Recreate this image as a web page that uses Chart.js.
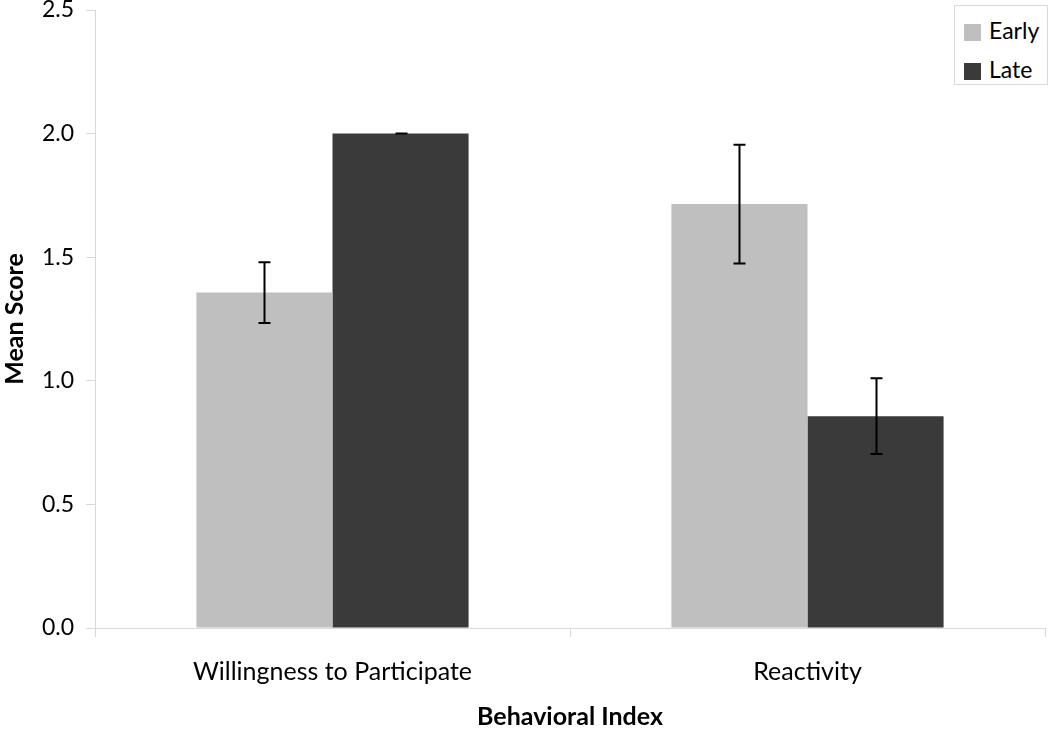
<!DOCTYPE html>
<html>
<head>
<meta charset="utf-8">
<script src="https://cdn.jsdelivr.net/npm/chart.js@4"></script>
<style>
  body { margin: 0; background: #fff; }
  #wrap { position: relative; width: 1050px; height: 729px; }
  #legend {
    position: absolute; left: 954px; top: 5px; width: 92px; height: 78px;
    border: 1px solid #d9d9d9; background: #fff;
    font-family: Lato, sans-serif; font-size: 23px; color: #000;
  }
  #legend div { position: absolute; left: 9px; height: 26px; line-height: 26px; }
  #legend span { display: inline-block; width: 17px; height: 17px; margin-right: 8px; vertical-align: -2px; }
</style>
</head>
<body>
<div id="wrap">
  <canvas id="myChart" width="1050" height="729"></canvas>
  <div id="legend"></div>
</div>
<script>
// dados
const categorias = ['Willingness to Participate', 'Reactivity'];
const early = [1.357, 1.715];
const late = [2.0, 0.857];
const earlyErr = [0.123, 0.24];
const lateErr = [0.0, 0.153];
const yTicks = [0, 0.5, 1.0, 1.5, 2.0, 2.5];

const corEarly = '#bfbfbf';
const corLate = '#3a3a3a';
const fonte = 'Lato, sans-serif';

// legenda
const legend = document.getElementById('legend');
legend.innerHTML =
  '<div style="top:11px"><span style="background:' + corEarly + '"></span>Early</div>' +
  '<div style="top:50px"><span style="background:' + corLate + '"></span>Late</div>';

// barras de erro
const errorBars = {
  id: 'errorBars',
  afterDatasetsDraw(chart) {
    const c = chart.ctx;
    const y = chart.scales.y;
    c.save();
    c.strokeStyle = '#000';
    c.lineWidth = 2;
    chart.data.datasets.forEach((ds, i) => {
      const meta = chart.getDatasetMeta(i);
      meta.data.forEach((bar, j) => {
        const v = ds.data[j];
        const e = ds.err[j];
        const top = y.getPixelForValue(v + e);
        const bot = y.getPixelForValue(v - e);
        const x = Math.round(bar.x) + 0.5;
        c.beginPath();
        c.moveTo(x, top); c.lineTo(x, bot);
        c.moveTo(x - 6, top); c.lineTo(x + 6, top);
        c.moveTo(x - 6, bot); c.lineTo(x + 6, bot);
        c.stroke();
      });
    });
    c.restore();
  }
};

const ctx = document.getElementById('myChart');

new Chart(ctx, {
  type: 'bar',
  data: {
    labels: categorias,
    datasets: [
      { label: 'Early', data: early, err: earlyErr, backgroundColor: corEarly,
        categoryPercentage: 0.573, barPercentage: 1.0 },
      { label: 'Late', data: late, err: lateErr, backgroundColor: corLate,
        categoryPercentage: 0.573, barPercentage: 1.0 }
    ]
  },
  options: {
    responsive: false,
    animation: false,
    layout: { padding: { top: 10, right: 5, left: 0, bottom: 0 } },
    plugins: {
      legend: { display: false },
      tooltip: { enabled: false }
    },
    scales: {
      x: {
        grid: { drawOnChartArea: false, color: '#d9d9d9', tickLength: 9 },
        border: { color: '#d9d9d9', width: 1 },
        ticks: { color: '#000', font: { family: fonte, size: 25 }, padding: 20 },
        title: { display: true, text: 'Behavioral Index', color: '#000',
                 font: { family: fonte, size: 25, weight: 'bold' }, padding: { top: 0, bottom: -3 } },
        afterFit(scale) {
          scale.height = 101;
          scale.paddingLeft = 0; scale.paddingRight = 0;
        }
      },
      y: {
        min: 0, max: 2.5,
        afterBuildTicks(scale) { scale.ticks = yTicks.map(v => ({ value: v })); },
        grid: { drawOnChartArea: false, color: '#d9d9d9', tickLength: 9 },
        border: { color: '#d9d9d9', width: 1 },
        ticks: { color: '#000', font: { family: fonte, size: 23 }, padding: 12,
                 callback: v => v.toFixed(1) },
        title: { display: true, text: 'Mean Score', color: '#000',
                 font: { family: fonte, size: 25, weight: 'bold' }, padding: { top: 0, bottom: 0 } },
        afterFit(scale) {
          scale.width = 95;
          scale.paddingTop = 0; scale.paddingBottom = 0;
        }
      }
    }
  },
  plugins: [errorBars]
});
</script>
</body>
</html>
